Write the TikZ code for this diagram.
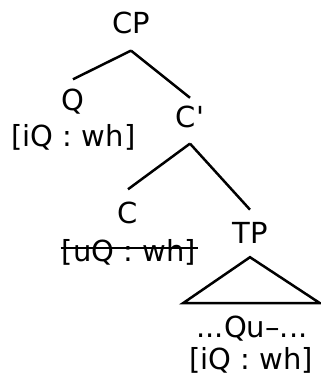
\documentclass[tikz,border=0pt]{standalone}
\usepackage{fontspec}
\setmainfont{DejaVu Sans}
\begin{document}
\begin{tikzpicture}[x=1pt,y=-1pt,
  lab/.style={anchor=base,inner sep=0pt,font=\fontsize{29}{34}\selectfont},
  branch/.style={line width=2.5pt},
  strike/.style={line width=2pt}]
\useasboundingbox (0,0) rectangle (321,381);
\node[lab] (cp) at (131,33) {CP};
\node[lab] (q) at (73,110) {Q};
\node[lab] (qf) at (73.5,146) {[iQ : wh]};
\node[lab] (cbar) at (190,127) {C\textquotesingle};
\node[lab] (c) at (128,223) {C};
\node[lab] (cf) at (129,261) {[uQ : wh]};
\node[lab] (tp) at (250,243) {TP};
\node[lab] (tpx) at (252,337) {...Qu–...};
\node[lab] (tpf) at (251,369) {[iQ : wh]};
\draw[branch] ([yshift=-17pt]cp.south) -- ([yshift=9pt]q.north);
\draw[branch] ([yshift=-17pt]cp.south) -- ([yshift=7.5pt]cbar.north);
\draw[branch] ([yshift=-16pt]cbar.south) -- ([yshift=12pt]c.north);
\draw[branch] ([yshift=-16pt]cbar.south) -- ([yshift=12pt]tp.north);
\draw[branch] ([yshift=-14pt]tp.south) -- ++(-67,46) -- ++(137,0) -- cycle;
\draw[strike] ([xshift=-1pt,yshift=13pt]cf.base west) -- ([xshift=2pt,yshift=13pt]cf.base east);
\end{tikzpicture}
\end{document}
